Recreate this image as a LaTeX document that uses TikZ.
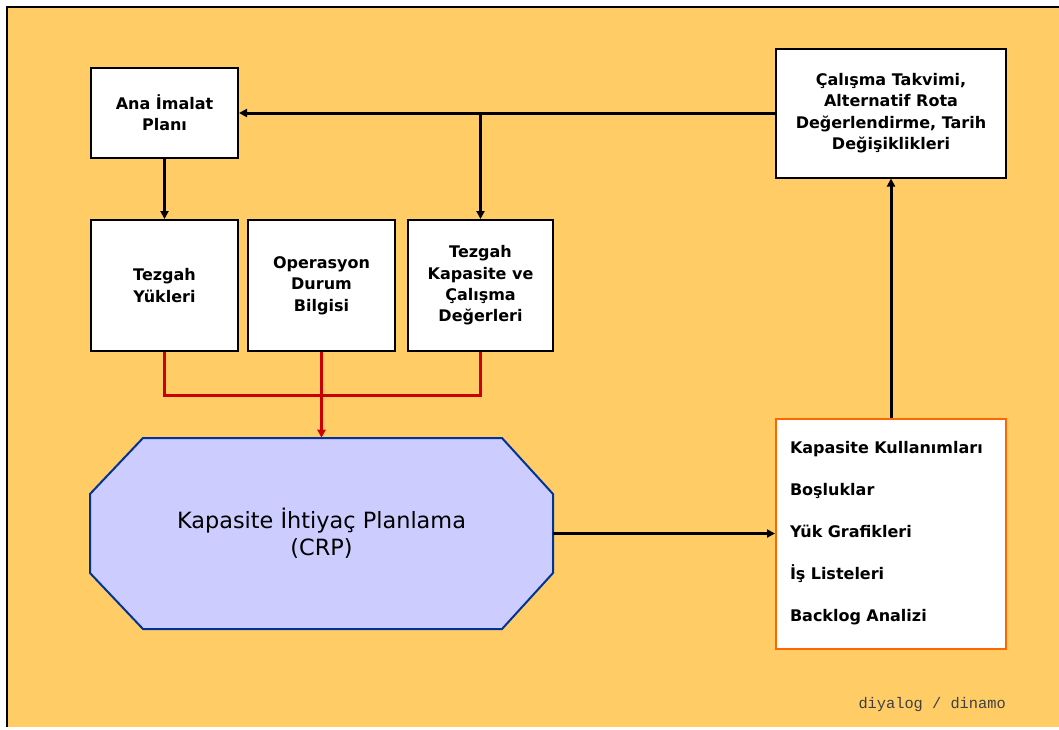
\documentclass[tikz,border=0pt]{standalone}
\usepackage{fontspec}
\setmainfont{DejaVu Sans}
\newfontfamily\imzafont{Liberation Mono}
\usetikzlibrary{calc}
\usetikzlibrary{arrows.meta}

\definecolor{zemin}{HTML}{FFCC66}
\definecolor{lila}{HTML}{CCCCFF}
\definecolor{koyumavi}{HTML}{003399}
\definecolor{turuncu}{HTML}{FF6600}
\definecolor{kirmizi}{HTML}{CC0000}

\tikzset{
    kutu/.style={draw=black, fill=white, line width=1.5pt, font=\fontsize{12}{16}\selectfont\bfseries, align=center, inner sep=2pt},
    okcizgi/.style={line width=2.25pt, -{Triangle[length=6pt,width=6pt]}},
    kcizgi/.style={line width=2.25pt, draw=kirmizi}
}

\begin{document}
\begin{tikzpicture}[x=0.75pt,y=-0.75pt]
                    \useasboundingbox (0,0) rectangle (1059,729);
                    \fill[white] (0,0) rectangle (1059,729);
                    \fill[zemin] (7,7) rectangle (1059,727);
                    \draw[line width=1.5pt] (1059,7) -- (7,7) -- (7,727);

                    \node[kutu, minimum width=110.25pt, minimum height=67.5pt] (ana) at (164.5,113) {Ana İmalat\\Planı};
                    \node[kutu, minimum width=110.25pt, minimum height=98.25pt] (yuk) at (164.5,285.5) {Tezgah\\Yükleri};
                    \node[kutu, minimum width=110.25pt, minimum height=98.25pt] (ops) at (321.5,285.5) {Operasyon\\Durum\\Bilgisi};
                    \node[kutu, minimum width=108.75pt, minimum height=98.25pt] (kap) at (480.5,285.5) {Tezgah\\Kapasite ve\\Çalışma\\Değerleri};
                    \node[kutu, minimum width=172.5pt, minimum height=96.75pt] (takvim) at (891,113) {Çalışma Takvimi,\\Alternatif Rota\\Değerlendirme, Tarih\\Değişiklikleri};
                    \node[kutu, draw=turuncu, minimum width=172.5pt, minimum height=172.5pt, inner xsep=10.5pt, text width=151.5pt, align=left, font=\fontsize{12}{31.5}\selectfont\bfseries] (cikti) at (891,533.5) {\rule{0pt}{1.5pt}Kapasite Kullanımları\\Boşluklar\\Yük Grafikleri\\İş Listeleri\\Backlog Analizi};

                    \draw[line width=1.5pt, draw=koyumavi, fill=lila] (143,438) -- (502,438) -- (553,494) -- (553,573) -- (502,629) -- (143,629) -- (90,573) -- (90,494) -- cycle;
                    \node[minimum width=347.25pt, minimum height=143.25pt, align=center, font=\fontsize{16.8}{20.5}\selectfont] (crp) at (321.5,533.5) {Kapasite İhtiyaç Planlama\\(CRP)};

                    \coordinate (birles) at (321.5,395);

                    \draw[okcizgi] (takvim.west) -- (ana.east);
                    \draw[okcizgi] (takvim.west -| kap.north) -- (kap.north);
                    \draw[okcizgi] (ana.south) -- (yuk.north);
                    \draw[kcizgi] (yuk.south) |- (kap.south |- birles) -- (kap.south);
                    \draw[kcizgi, okcizgi] (ops.south) -- (crp.north);
                    \draw[okcizgi] (crp.east) -- (cikti.west);
                    \draw[okcizgi] (cikti.north) -- (takvim.south);

                    \node[anchor=base east, inner sep=0pt, text=black!75, font=\imzafont\fontsize{11.5}{13}\selectfont] (imza) at (1006,708) {diyalog / dinamo};
\end{tikzpicture}
\end{document}
